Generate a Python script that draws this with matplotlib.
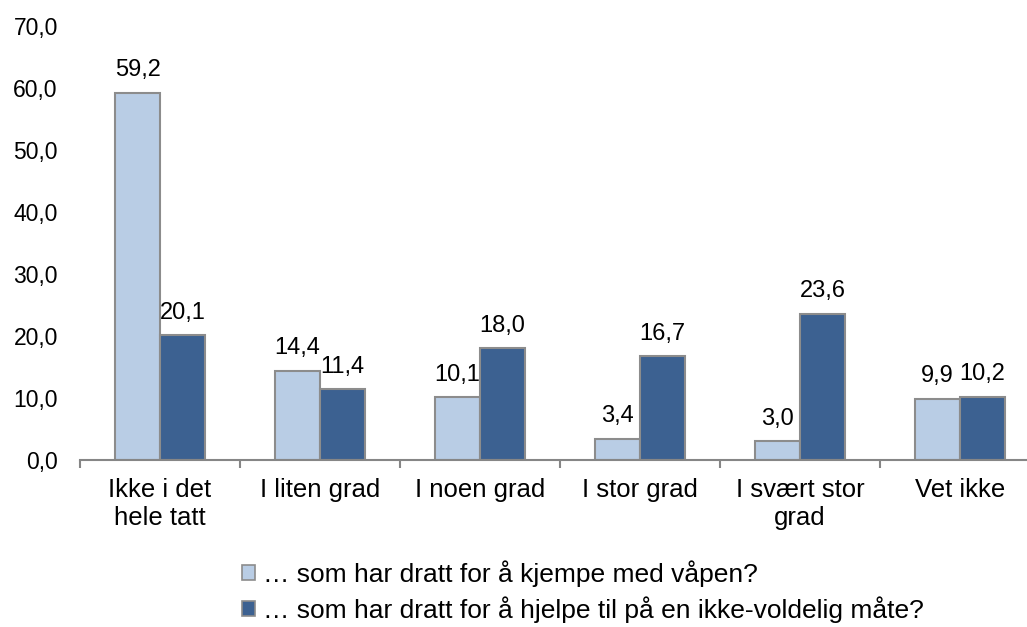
import matplotlib
matplotlib.use("Agg")
import matplotlib.pyplot as plt
import numpy as np
from matplotlib.patches import Patch

categories = ["Ikke i det\nhele tatt", "I liten grad", "I noen grad", "I stor grad",
              "I svært stor\ngrad", "Vet ikke"]
series1_name = "… som har dratt for å kjempe med våpen?"
series2_name = "… som har dratt for å hjelpe til på en ikke-voldelig måte?"
series1 = [59.2, 14.4, 10.1, 3.4, 3.0, 9.9]
series2 = [20.1, 11.4, 18.0, 16.7, 23.6, 10.2]
yticks = [0, 10, 20, 30, 40, 50, 60, 70]

plt.rcParams['font.family'] = ['Liberation Sans', 'DejaVu Sans']
fs_tick = 16.5
fs_data = 17
fs_cat = 18.5
fs_leg = 19
c1 = "#B9CDE5"
c2 = "#3C6191"
edge = "#8C8C8C"

fig = plt.figure(figsize=(10.27, 6.27), dpi=100)
ax = fig.add_axes([80/1027, 1-460/627, 960/1027, 434/627])

x = np.arange(len(categories))
w = 0.28
b1 = ax.bar(x - w/2, series1, w, color=c1, edgecolor=edge, linewidth=1.5)
b2 = ax.bar(x + w/2, series2, w, color=c2, edgecolor=edge, linewidth=1.5)

def fmt(v):
    return f"{v:.1f}".replace(".", ",")

for bars, vals in ((b1, series1), (b2, series2)):
    for r, v in zip(bars, vals):
        ax.annotate(fmt(v), (r.get_x() + r.get_width()/2, v), xytext=(0, 8.5),
                    textcoords="offset points", ha="center", va="bottom", fontsize=fs_data)

ax.set_xlim(-0.5, len(categories) - 0.5)
ax.set_ylim(0, 70)
ax.set_yticks(yticks)
ax.set_yticklabels([fmt(v) for v in yticks], fontsize=fs_tick)
ax.tick_params(axis='y', length=0, pad=16)
ax.set_xticks(x)
ax.set_xticklabels(categories, fontsize=fs_cat)
ax.tick_params(axis='x', which='major', length=0, pad=13)
ax.set_xticks(np.arange(-0.5, len(categories)), minor=True)
ax.tick_params(axis='x', which='minor', length=6, width=1.5, color="#868686", direction='out')

for s in ('top', 'right', 'left'):
    ax.spines[s].set_visible(False)
ax.spines['bottom'].set_color("#868686")
ax.spines['bottom'].set_linewidth(1.5)

handles = [Patch(facecolor=c1, edgecolor=edge, linewidth=1.2),
           Patch(facecolor=c2, edgecolor=edge, linewidth=1.2)]
fig.legend(handles, [series1_name, series2_name], loc='upper left',
           bbox_to_anchor=(242/1027, 1-560/627), frameon=False, fontsize=fs_leg,
           handlelength=0.5, handleheight=0.5, handletextpad=0.3,
           labelspacing=0.35, borderpad=0, borderaxespad=0)

fig.savefig("out.png", dpi=100)
